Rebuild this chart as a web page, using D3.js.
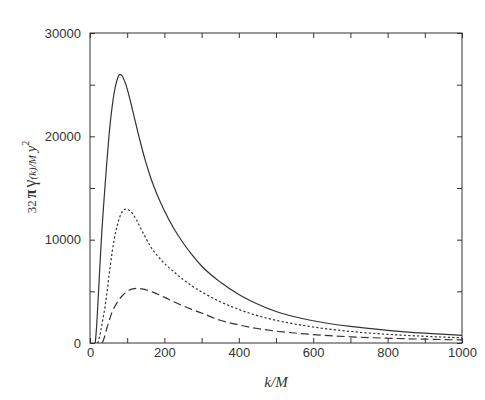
<!DOCTYPE html>
<html><head><meta charset="utf-8">
<script src="https://cdn.jsdelivr.net/npm/d3@7"></script>
<style>body{margin:0;background:#fff}</style>
</head><body>
<script>
const xTicks = [0,100,200,300,400,500,600,700,800,900,1000];
const xLabels = [0,200,400,600,800,1000];
const yTicks = [0,5000,10000,15000,20000,25000,30000];
const yLabels = [0,10000,20000,30000];

const solidK = [14,17,20,24,28,32,36,40,45,50,55,60,65,70,75,80,85,90,100,110,120,130,140,150,165,180,200,225,250,275,300,350,400,450,500,600,700,800,900,1000];
const solidV = [0,1200,3000,5700,8400,10900,13000,15000,17400,19600,21500,23000,24200,25100,25700,26000,25900,25600,24600,23200,21700,20200,18800,17500,15800,14400,12800,11100,9700,8500,7450,5900,4700,3780,3050,2150,1600,1230,950,740];

const dottedK = [21,25,30,35,40,45,50,55,60,65,70,75,80,85,90,97,105,115,125,135,145,160,180,200,225,250,275,300,350,400,450,500,600,700,800,900,1000];
const dottedV = [0,500,1400,2400,3400,4700,6200,7600,8900,10000,10900,11600,12200,12600,12850,12970,12850,12500,11900,11200,10500,9500,8500,7700,6900,6150,5500,4950,4000,3250,2650,2200,1550,1120,840,650,500];

const dashedK = [33,40,45,50,55,60,67,75,85,95,105,115,128,140,155,170,190,210,240,270,300,350,400,450,500,600,700,800,900,1000];
const dashedV = [0,700,1400,2000,2550,3050,3550,4050,4500,4850,5100,5240,5290,5240,5100,4900,4600,4250,3750,3300,2900,2200,1750,1400,1150,820,600,460,370,300];

const W = 485, H = 400;
const m = {l:90, r:23, t:33, b:57};
const svg = d3.select("body").append("svg").attr("width",W).attr("height",H);
const x = d3.scaleLinear().domain([0,1000]).range([m.l, W-m.r]);
const y = d3.scaleLinear().domain([0,30000]).range([H-m.b, m.t]);
const ink = "#333";

svg.append("rect").attr("x",x(0)).attr("y",y(30000)).attr("width",x(1000)-x(0)).attr("height",y(0)-y(30000))
  .attr("fill","none").attr("stroke",ink).attr("stroke-width",1);

const tl = 5;
const xAxB = d3.axisBottom(x).tickValues(xTicks).tickSize(-tl).tickFormat(d => xLabels.includes(d) ? d : "").tickPadding(5);
const gxb = svg.append("g").attr("transform",`translate(0,${y(0)})`).call(xAxB);
const xAxT = d3.axisTop(x).tickValues(xTicks).tickSize(-tl).tickFormat("");
const gxt = svg.append("g").attr("transform",`translate(0,${y(30000)})`).call(xAxT);
const yAxL = d3.axisLeft(y).tickValues(yTicks).tickSize(-tl).tickFormat(d => yLabels.includes(d) ? d : "").tickPadding(9);
const gyl = svg.append("g").attr("transform",`translate(${x(0)},0)`).call(yAxL);
const yAxR = d3.axisRight(y).tickValues(yTicks).tickSize(-tl).tickFormat("");
const gyr = svg.append("g").attr("transform",`translate(${x(1000)},0)`).call(yAxR);
[gxb,gxt,gyl,gyr].forEach(g => {
  g.select(".domain").remove();
  g.selectAll("line").attr("stroke",ink);
  g.selectAll("text").attr("fill",ink).style("font-family","'Liberation Sans', Arial, sans-serif").style("font-size","13px");
});

const line = d3.line().x(d=>x(d[0])).y(d=>y(d[1])).curve(d3.curveMonotoneX);
function draw(K,V,dash){
  svg.append("path").datum(K.map((k,i)=>[k,V[i]])).attr("d",line)
    .attr("fill","none").attr("stroke",ink).attr("stroke-width",1.2)
    .attr("stroke-dasharray",dash);
}
draw(solidK,solidV,null);
draw(dottedK,dottedV,"2.2,2.2");
draw(dashedK,dashedV,"8,4");

svg.append("text").attr("x",(x(0)+x(1000))/2).attr("y",387).attr("text-anchor","middle")
  .style("font-family","'Liberation Serif', 'Times New Roman', serif").style("font-style","italic")
  .style("font-size","15px").attr("fill",ink).text("k/M");

const yl = svg.append("text").attr("transform","translate(36,177) rotate(-90)").attr("text-anchor","middle")
  .style("font-family","'Liberation Serif', 'Times New Roman', serif").attr("fill",ink);
yl.append("tspan").style("font-size","13px").text("32");
yl.append("tspan").style("font-size","16px").style("font-weight","bold").attr("dx","2").text("π");
yl.append("tspan").style("font-size","18px").attr("dx","2").text("γ");
yl.append("tspan").style("font-size","11px").style("font-style","italic").text("(k)/M");
yl.append("tspan").style("font-size","14px").style("font-style","italic").attr("dx","3").text("y");
yl.append("tspan").style("font-size","10px").attr("dy","-7").text("2");
</script>
</body></html>
